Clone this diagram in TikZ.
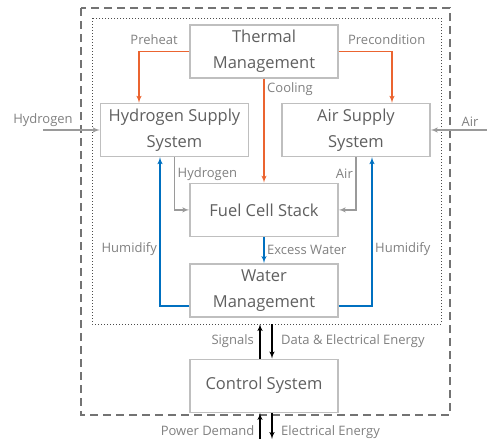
\documentclass[tikz,border=0pt]{standalone}
\usepackage{xcolor}
\usepackage{fontspec}
\setmainfont{Open Sans}
\usepackage{tikz}
\usetikzlibrary{arrows, positioning, calc}

\definecolor{boxline}{HTML}{BFBFBF}
\definecolor{boxtext}{HTML}{5F5F5F}
\definecolor{lbltext}{HTML}{808080}
\definecolor{flowgray}{HTML}{9A9A9A}
\definecolor{heatred}{HTML}{EB6430}
\definecolor{waterblue}{HTML}{0070C0}

\begin{document}
\begin{tikzpicture}[x=1pt, y=-1pt, auto,
    unit/.style={rectangle, draw=boxline, line width=1.4pt, text=boxtext, align=center, minimum width=148pt, minimum height=53pt, inner sep=0pt, font=\fontsize{16.5}{26}\selectfont},
    lbl/.style={text=lbltext, font=\fontsize{13}{15}\selectfont, inner sep=2.5pt},
    gasflow/.style={draw=flowgray, line width=1.4pt, -latex'},
    heatflow/.style={draw=heatred, line width=1.4pt, -latex'},
    waterflow/.style={draw=waterblue, line width=1.4pt, -latex'},
    sigflow/.style={draw=black, line width=1.4pt, -latex'}]

    \useasboundingbox (0,0) rectangle (487,439);

    % system boundaries
    \draw [gray!90!black, line width=1.3pt, dash pattern=on 8pt off 5pt] (81,8) rectangle (450,415);
    \draw [black!70, line width=1pt, dotted] (92,18) rectangle (441,324);

    \node [unit] (thermal) at (264,51.5) {Thermal\\Management};
    \node [unit] (htwo) at (174.5,130) {Hydrogen Supply\\System};
    \node [unit] (air) at (356,130) {Air Supply\\System};
    \node [unit, below=104pt of thermal] (fcs) {Fuel Cell Stack};
    \node [unit, below=26pt of fcs] (water) {Water\\Management};
    \node [unit, below=41pt of water] (control) {Control System};

    \coordinate (h2in) at (43,130);
    \coordinate (airin) at (487,130);
    \coordinate (dotbot) at (264,324);
    \coordinate (pagebot) at (264,439);

    % thermal management
    \draw [heatflow] (thermal.west) -| ($(htwo.north)+(-35.5,0)$) node[lbl, above=4pt, pos=0.35]{Preheat};
    \draw [heatflow] (thermal.east) -| ($(air.north)+(36,0)$) node[lbl, above=4pt, pos=0.45]{Precondition};
    \draw [heatflow] (thermal.south) -- (fcs.north) node[lbl, right, pos=0.1]{Cooling};

    % reactants
    \draw [gasflow] (h2in) -- (htwo.west) node[lbl, above, pos=0]{Hydrogen};
    \draw [gasflow] (airin) -- (air.east) node[lbl, above, pos=0.3]{Air};
    \draw [gasflow] (htwo.south) |- (fcs.west) node[lbl, right, pos=0.16]{Hydrogen};
    \draw [gasflow] (air.south) |- (fcs.east) node[lbl, left, pos=0.16]{Air};

    % water management
    \draw [waterflow] (fcs.south) -- (water.north) node[lbl, right, midway]{Excess Water};
    \draw [waterflow] ($(water.west)+(0,15.5)$) -| ($(htwo.south)+(-14.5,0)$) node[lbl, left, pos=0.69]{Humidify};
    \draw [waterflow] ($(water.east)+(0,15.5)$) -| ($(air.south)+(16,0)$) node[lbl, right, pos=0.69]{Humidify};

    % control
    \draw [sigflow] ($(control.north)+(-4,0)$) -- ($(dotbot)+(-4,0)$) node[lbl, left, midway, xshift=-3pt]{Signals};
    \draw [sigflow] ($(dotbot)+(8,0)$) -- ($(control.north)+(8,0)$) node[lbl, right, midway, xshift=6pt]{Data \& Electrical Energy};
    \draw [sigflow] ($(pagebot)+(-4,0)$) -- ($(control.south)+(-4,0)$) node[lbl, inner sep=0pt, anchor=base east, pos=0.125, xshift=-5pt]{Power Demand};
    \draw [sigflow] ($(control.south)+(8,0)$) -- ($(pagebot)+(8,0)$) node[lbl, inner sep=0pt, anchor=base west, pos=0.875, xshift=8.5pt]{Electrical Energy};
\end{tikzpicture}
\end{document}
